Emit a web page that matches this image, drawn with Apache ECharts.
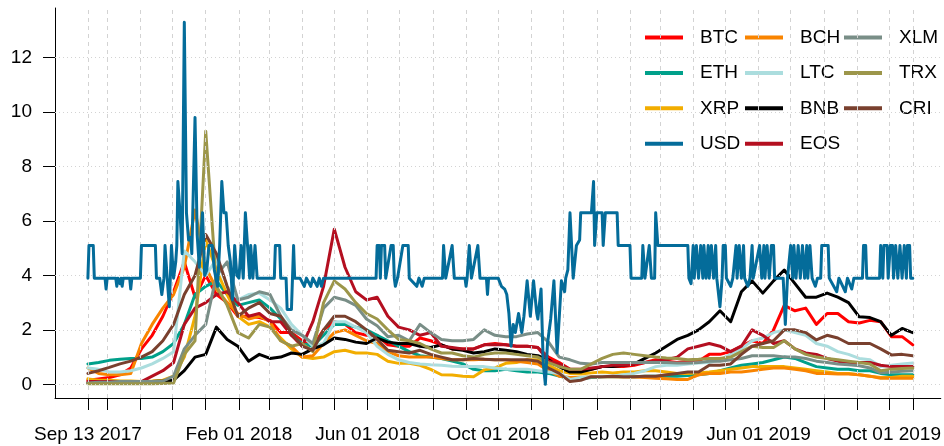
<!DOCTYPE html>
<html>
<head>
<meta charset="utf-8">
<script src="https://cdn.jsdelivr.net/npm/echarts@6/dist/echarts.min.js"></script>
<style>
html,body{margin:0;padding:0;background:#fff;}
#chart{width:944px;height:446px;}
</style>
</head>
<body>
<div id="chart"></div>
<script>
// ---------- data ----------
const START_DATE = '2017-09-13';
// day offsets from START_DATE of the sampled points (every 10 days)
const gridDay = [0,10,20,30,40,50,60,70,80,90,100,110,120,130,140,150,160,170,180,190,
  200,210,220,230,240,250,260,270,280,290,300,310,320,330,340,350,360,370,380,390,
  400,410,420,430,440,450,460,470,480,490,500,510,520,530,540,550,560,570,580,590,
  600,610,620,630,640,650,660,670,680,690,700,710,720,730,740,750,760,770];

const seriesNames = ['BTC','ETH','XRP','USD','BCH','LTC','BNB','EOS','XLM','TRX','CRI'];

const BTC = [0.15,0.2,0.25,0.35,0.6,1.3,1.8,2.5,3.4,4.5, 3.2,4.0,3.3,3.0,2.5,2.5,2.45,2.35,1.9,1.9,
  1.6,1.4,2.0,2.3,2.2,1.9,1.8,1.8,1.45,1.4, 1.4,1.7,1.6,1.45,1.3,1.3,1.3,1.45,1.5,1.45,
  1.4,1.4,1.35,1.0,0.8,0.55,0.5,0.55,0.65,0.65, 0.65,0.7,0.8,0.9,0.85,0.8,0.85,0.85,1.1,1.1,
  1.2,1.4,1.6,1.5,2.0,2.9,2.7,2.8,2.2,2.6, 2.6,2.3,2.25,2.35,2.3,1.75,1.75,1.45];
const ETH = [0.75,0.8,0.88,0.92,0.95,0.95,1.0,1.2,1.5,2.2, 3.3,3.6,3.8,3.3,2.9,3.0,3.1,2.8,2.4,1.8,
  1.5,1.4,1.8,2.2,2.2,2.1,2.0,1.8,1.6,1.4, 1.2,1.05,1.0,0.95,0.85,0.75,0.55,0.5,0.5,0.55,
  0.5,0.45,0.45,0.4,0.3,0.2,0.2,0.25,0.28,0.28, 0.28,0.28,0.3,0.3,0.3,0.3,0.32,0.35,0.4,0.5,
  0.6,0.7,0.75,0.8,0.9,1.0,0.95,0.8,0.65,0.6, 0.55,0.55,0.5,0.5,0.4,0.35,0.35,0.35];
const XRP = [0.2,0.15,0.15,0.12,0.12,0.1,0.12,0.15,0.3,1.0, 2.5,5.3,4.2,3.3,2.5,2.2,2.3,2.1,1.7,1.3,
  1.0,0.95,1.0,1.2,1.25,1.15,1.15,1.1,0.85,0.77, 0.77,0.7,0.55,0.35,0.34,0.3,0.28,0.53,0.6,0.77,
  0.8,0.9,0.9,0.7,0.5,0.4,0.38,0.42,0.45,0.42, 0.45,0.45,0.5,0.5,0.45,0.4,0.4,0.42,0.45,0.5,
  0.55,0.6,0.65,0.65,0.65,0.65,0.6,0.55,0.5,0.45, 0.4,0.4,0.35,0.3,0.25,0.25,0.3,0.3];
const BCH = [0.6,0.4,0.35,0.35,0.4,1.5,2.2,2.8,3.3,4.3, 6.4,4.3,3.5,3.0,2.6,2.4,2.5,2.3,1.6,1.4,
  1.0,1.05,1.5,1.9,2.0,1.8,1.6,1.5,1.2,1.05, 1.0,1.0,1.0,0.95,0.9,0.9,0.9,0.92,0.9,0.9,
  0.85,0.8,0.75,0.5,0.3,0.25,0.25,0.28,0.28,0.28, 0.27,0.27,0.25,0.22,0.2,0.18,0.18,0.35,0.4,0.4,
  0.45,0.45,0.5,0.55,0.6,0.6,0.55,0.5,0.4,0.4, 0.38,0.38,0.35,0.3,0.22,0.22,0.22,0.22];
const LTC = [0.6,0.55,0.45,0.45,0.5,0.6,0.75,0.95,1.2,4.9, 4.5,4.0,4.6,3.6,3.1,3.3,3.35,3.1,2.8,2.2,
  1.8,1.4,1.5,2.3,2.3,2.1,1.9,1.4,1.1,0.9, 0.8,0.75,0.72,0.7,0.66,0.65,0.65,0.65,0.6,0.55,
  0.55,0.55,0.5,0.45,0.4,0.18,0.25,0.28,0.3,0.3, 0.35,0.4,0.5,0.65,0.7,0.7,0.75,0.78,0.8,0.9,
  1.1,1.3,1.6,1.7,1.9,2.0,1.9,1.8,1.5,1.4, 1.2,1.1,0.95,0.9,0.65,0.7,0.75,0.78];
const BNB = [0.05,0.05,0.08,0.08,0.08,0.08,0.1,0.12,0.15,0.5, 1.0,1.1,2.1,1.65,1.4,0.85,1.1,0.95,1.0,1.15,
  1.1,1.3,1.45,1.7,1.65,1.55,1.5,1.7,1.55,1.5, 1.5,1.4,1.35,1.45,1.3,1.25,1.15,1.2,1.3,1.25,
  1.2,1.1,1.05,0.9,0.65,0.45,0.45,0.55,0.65,0.65, 0.7,0.75,0.95,1.15,1.4,1.65,1.8,2.0,2.3,2.7,
  2.3,3.4,3.8,3.35,3.8,4.2,3.7,3.2,3.2,3.35, 3.2,3.0,2.48,2.45,2.3,1.8,2.05,1.9];
const EOS = [0.1,0.1,0.1,0.08,0.08,0.1,0.3,0.5,0.8,2.2, 2.8,3.0,3.3,3.4,3.0,2.5,2.6,2.3,2.3,1.8,
  1.4,2.3,3.6,5.7,4.3,3.4,3.1,3.2,2.5,2.1, 2.0,1.8,1.9,1.4,1.35,1.3,1.3,1.45,1.45,1.45,
  1.4,1.4,1.35,0.85,0.75,0.55,0.55,0.6,0.65,0.7, 0.7,0.75,0.8,0.85,0.9,1.0,1.3,1.4,1.5,1.4,
  1.2,1.4,2.0,1.8,1.5,1.6,1.3,1.15,1.1,0.95, 0.85,0.8,0.8,0.8,0.7,0.65,0.65,0.65];
const XLM = [0.05,0.08,0.08,0.1,0.1,0.1,0.1,0.12,0.3,1.3, 1.8,2.2,4.0,4.5,3.1,3.2,3.4,3.3,2.5,2.0,
  1.8,1.5,2.8,3.2,3.1,2.9,2.4,2.15,1.75,1.8, 1.6,2.2,1.9,1.65,1.6,1.6,1.65,2.0,1.8,1.75,
  1.75,1.85,1.9,1.55,1.0,0.9,0.77,0.75,0.8,0.8, 0.8,0.8,0.8,0.8,0.8,0.78,0.78,0.8,0.85,0.85,
  0.9,0.95,1.05,1.05,1.05,1.0,1.0,0.95,0.85,0.8, 0.75,0.72,0.68,0.6,0.42,0.45,0.48,0.5];
const TRX = [0.02,0.02,0.02,0.02,0.02,0.02,0.02,0.03,0.05,1.1, 1.6,9.3,3.6,2.9,1.9,1.7,2.2,2.1,1.6,1.4,
  1.5,1.2,3.0,3.8,3.5,3.0,2.6,2.4,2.0,1.65, 1.6,1.5,1.3,1.15,1.15,1.05,1.0,1.1,1.15,1.15,
  1.1,1.05,1.0,0.8,0.65,0.55,0.55,0.75,0.95,1.1, 1.15,1.1,1.05,1.0,0.97,0.95,0.9,0.92,0.95,0.95,
  1.0,1.2,1.4,1.35,1.35,1.6,1.3,1.1,1.0,0.95, 0.9,0.85,0.8,0.75,0.5,0.55,0.58,0.6];
const CRI = [0.4,0.5,0.62,0.75,0.85,1.0,1.2,1.6,2.2,3.3, 4.0,5.5,4.8,3.6,2.5,2.8,3.0,2.6,2.5,1.9,
  1.4,1.25,2.0,2.5,2.5,2.3,2.0,1.65,1.25,1.2, 1.15,1.25,1.1,1.0,0.9,0.9,0.95,0.92,0.9,0.9,
  0.9,0.9,0.85,0.6,0.4,0.1,0.15,0.28,0.28,0.3, 0.28,0.28,0.3,0.3,0.35,0.4,0.45,0.45,0.7,0.7,
  0.75,1.1,1.4,1.5,1.6,2.0,2.0,1.9,1.63,1.8, 1.7,1.5,1.5,1.5,1.3,1.08,1.1,1.05];
// USD moves in steps: [day offset, value]
const USD = [[0,3.9],[1,5.1],[5,5.1],[6,3.9],[16,3.9],[17,3.5],[18,3.9],[26,3.9],[27,3.6],[28,3.9],
  [30,3.7],[31,3.9],[32,3.6],[33,3.9],[39,3.9],[40,3.5],[41,3.9],[49,3.9],[50,5.1],[63,5.1],
  [64,3.9],[67,3.9],[69,3.3],[71,3.9],[72,5.1],[74,3.9],[76,2.85],[78,5.1],[80,3.9],[82,4.5],
  [83,5.1],[84,7.45],[86,6.3],[87,6.3],[88,4.8],[90,13.3],[92,6.3],[94,5.3],[96,5.4],[97,4.8],
  [100,9.8],[102,5.5],[104,4.3],[105,5.1],[107,6.3],[109,4.0],[111,4.2],[113,5.1],[116,5.1],[118,4.2],
  [121,3.6],[123,5.1],[125,7.45],[127,6.3],[129,6.3],[131,5.1],[133,4.5],[135,3.1],[137,5.1],[139,4.0],
  [141,3.9],[143,5.1],[145,3.9],[147,6.3],[149,5.1],[151,3.9],[152,5.1],[153,5.1],[154,3.9],[156,5.1],
  [158,3.9],[174,3.9],[175,5.1],[179,5.1],[180,3.9],[185,3.9],[186,2.75],[190,2.75],[192,5.1],[193,3.9],
  [198,3.9],[202,3.6],[204,3.9],[208,3.6],[210,3.9],[214,3.6],[216,3.9],[218,3.6],[220,3.9],[269,3.9],
  [270,5.1],[272,5.1],[273,3.9],[274,5.1],[277,5.1],[278,3.9],[283,5.1],[285,5.1],[286,3.9],[287,3.6],
  [289,3.9],[294,5.1],[299,5.1],[300,3.9],[307,3.6],[309,3.9],[312,3.6],[314,3.9],[331,3.9],[332,5.1],
  [334,3.9],[340,5.1],[342,3.9],[352,3.9],[353,3.6],[354,3.9],[356,5.1],[358,3.9],[364,5.1],[366,3.9],
  [372,3.9],[373,3.3],[374,3.9],[383,3.9],[386,3.6],[389,3.5],[391,3.3],[393,2.6],[395,1.4],[397,2.2],
  [399,1.9],[402,2.6],[405,1.9],[407,2.5],[410,3.8],[413,2.5],[416,3.8],[419,2.6],[420,2.4],[423,3.5],
  [425,0.8],[427,0.0],[429,1.5],[432,2.4],[435,3.8],[438,1.15],[442,3.8],[445,3.4],[446,3.9],[448,4.2],
  [450,6.3],[453,3.9],[456,5.1],[459,5.3],[460,6.3],[470,6.3],[472,7.45],[473,5.1],[475,6.3],[480,6.3],
  [481,5.1],[483,6.3],[494,6.3],[495,5.1],[506,5.1],[507,3.9],[517,3.9],[518,5.1],[520,3.9],[524,5.1],
  [526,3.9],[529,3.9],[530,6.3],[532,5.1],[560,5.1],[561,3.9],[563,3.7],[565,5.1],[566,3.9],[568,5.1],
  [570,3.9],[572,5.1],[574,3.9],[575,5.1],[577,3.9],[579,5.1],[580,3.9],[582,5.1],[584,3.9],[586,5.1],
  [587,3.9],[590,2.85],[592,3.9],[593,5.1],[595,5.1],[596,3.9],[600,3.6],[602,3.9],[605,5.1],[606,3.9],
  [608,5.1],[610,3.9],[612,5.1],[613,3.9],[616,3.6],[618,3.9],[620,5.1],[621,3.9],[627,5.1],[629,3.9],
  [631,5.1],[632,3.9],[634,5.1],[636,3.9],[638,5.1],[640,5.1],[641,3.9],[644,3.9],[649,3.9],[651,2.2],
  [653,3.9],[656,5.1],[658,3.9],[659,5.1],[661,3.9],[663,5.1],[665,3.9],[667,5.1],[669,3.9],[671,5.1],
  [672,3.9],[674,5.1],[676,3.9],[679,3.6],[681,3.9],[684,3.9],[685,5.1],[691,5.1],[692,3.9],[699,3.4],
  [701,3.9],[707,3.4],[709,3.9],[713,3.5],[715,3.9],[723,3.9],[724,5.1],[726,5.1],[727,3.9],[739,3.9],
  [740,5.1],[742,3.9],[743,5.1],[746,5.1],[747,3.9],[749,5.1],[751,5.1],[752,3.9],[754,5.1],[756,3.9],
  [758,5.1],[760,3.9],[762,5.1],[764,3.9],[765,5.1],[767,5.1],[768,3.9],[770,3.9]];

const tickDates = ['2017-09-13','2017-10-01','2017-11-01','2017-12-01','2018-01-01','2018-02-01',
  '2018-03-01','2018-04-01','2018-05-01','2018-06-01','2018-07-01','2018-08-01','2018-09-01',
  '2018-10-01','2018-11-01','2018-12-01','2019-01-01','2019-02-01','2019-03-01','2019-04-01',
  '2019-05-01','2019-06-01','2019-07-01','2019-08-01','2019-09-01','2019-10-01','2019-10-23'];
const labelDates = ['2017-09-13','2018-02-01','2018-06-01','2018-10-01','2019-02-01','2019-06-01','2019-10-01'];
const yTicks = [0,2,4,6,8,10,12];

const colors = {BTC:'#FF0000',ETH:'#00A08A',XRP:'#F2AD00',USD:'#046C9A',BCH:'#F98400',LTC:'#ABDDDE',
  BNB:'#000000',EOS:'#B40F20',XLM:'#798E87',TRX:'#9C964A',CRI:'#79402E'};

// ---------- chart ----------
const DAY = 86400000;
const t0 = Date.parse(START_DATE);
const dayOf = s => Math.round((Date.parse(s) - t0) / DAY);
const MON = ['Jan','Feb','Mar','Apr','May','Jun','Jul','Aug','Sep','Oct','Nov','Dec'];
function fmtDay(d){
  const dt = new Date(t0 + Math.round(d) * DAY);
  const dd = String(dt.getUTCDate()).padStart(2,'0');
  return MON[dt.getUTCMonth()] + ' ' + dd + ' ' + dt.getUTCFullYear();
}
const tickDays = tickDates.map(dayOf);
const labelDays = labelDates.map(dayOf);

const valuesByName = {BTC,ETH,XRP,BCH,LTC,BNB,EOS,XLM,TRX,CRI};
const FONT = '"Liberation Sans", Arial, Helvetica, sans-serif';

const lineSeries = seriesNames.map(name => {
  const data = name === 'USD' ? USD : gridDay.map((d, i) => [d, valuesByName[name][i]]);
  return {
    name, type:'line', data, showSymbol:false, symbol:'none', silent:true,
    color: colors[name],
    itemStyle:{color:colors[name], borderWidth:0},
    lineStyle:{width:3, color:colors[name], cap:'round', join:'round'},
    z: name === 'USD' ? 5 : 3,
    emphasis:{disabled:true}, animation:false, clip:true
  };
});

const gridColor = '#d3d3d3';
const markData = [];
tickDays.forEach(d => markData.push({xAxis:d, lineStyle:{type:[4,4], color:gridColor, width:1}}));
yTicks.forEach(v => markData.push({yAxis:v, lineStyle:{type:[1,3], color:gridColor, width:1}}));
const gridSeries = {
  name:'_grid', type:'line', data:[[-1000,-1000]], showSymbol:false, silent:true, z:1,
  lineStyle:{opacity:0}, animation:false,
  markLine:{silent:true, symbol:['none','none'], label:{show:false}, animation:false, data:markData}
};

function legendCol(items, left){
  return {
    data: items.map(n => ({name:n, icon:'rect',
      itemStyle:{color:colors[n], borderWidth:0, opacity:1}})),
    orient:'vertical', left, top:26.5, itemGap:13.4, padding:0,
    itemWidth:38, itemHeight:4, selectedMode:false,
    itemStyle:{borderWidth:0},
    lineStyle:{width:0, opacity:0},
    textStyle:{fontSize:19, lineHeight:22, color:'#000', fontFamily:FONT, padding:[0,0,0,12]}
  };
}

const chart = echarts.init(document.getElementById('chart'), null, {renderer:'canvas'});
chart.setOption({
  animation:false,
  backgroundColor:'#ffffff',
  textStyle:{fontFamily:FONT},
  grid:{left:55, right:0, top:8, bottom:48, containLabel:false},
  legend:[
    legendCol(['BTC','ETH','XRP','USD'], 645),
    legendCol(['BCH','LTC','BNB','EOS'], 745),
    legendCol(['XLM','TRX','CRI'], 844)
  ],
  xAxis:{
    type:'value', min:-30.7, max:796.1,
    axisLine:{show:true, onZero:false, lineStyle:{color:'#000', width:1}},
    axisTick:{show:true, customValues:tickDays, length:12, lineStyle:{color:'#000', width:1}},
    axisLabel:{customValues:labelDays, formatter:v => fmtDay(v), fontSize:19, color:'#000',
      margin:27, fontFamily:FONT, hideOverlap:false},
    splitLine:{show:false}
  },
  yAxis:{
    type:'value', min:-0.503, max:13.824,
    axisLine:{show:true, onZero:false, lineStyle:{color:'#000', width:1}},
    axisTick:{show:true, customValues:yTicks, length:12, lineStyle:{color:'#000', width:1}},
    axisLabel:{customValues:yTicks, fontSize:19, color:'#000', margin:23, fontFamily:FONT},
    splitLine:{show:false}
  },
  series:[gridSeries].concat(lineSeries)
});
</script>
</body>
</html>
